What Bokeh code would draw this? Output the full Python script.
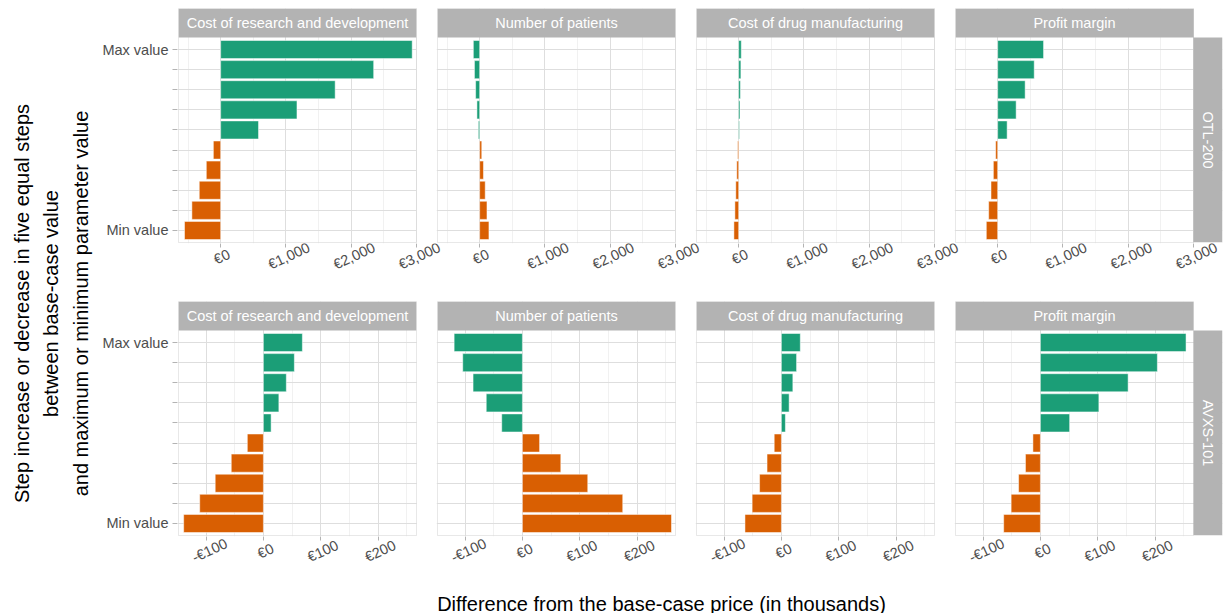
import math
from bokeh.plotting import figure
from bokeh.models import (Range1d, FixedTicker, BoxAnnotation, Label, LinearAxis,
                          ColumnDataSource)
from bokeh.transform import factor_cmap
from bokeh.layouts import row, column
from bokeh.embed import file_html
from bokeh.resources import INLINE
from bokeh.core.properties import value

# ---------------- data ----------------
products = ["OTL-200", "AVXS-101"]
parameters = ["Cost of research and development", "Number of patients",
              "Cost of drug manufacturing", "Profit margin"]
steps = [10, 9, 8, 7, 6, 5, 4, 3, 2, 1]          # 10 = max value ... 1 = min value
step_tick_labels = {10: "Max value", 1: "Min value"}
directions = ["Increase", "Increase", "Increase", "Increase", "Increase",
              "Decrease", "Decrease", "Decrease", "Decrease", "Decrease"]

otl_rd = [2934, 2344, 1754, 1169, 580, -112, -220, -328, -441, -554]
otl_patients = [-97, -80, -62, -42, -20, 32, 58, 85, 112, 142]
otl_manufacturing = [40, 34, 27, 20, 12, -15, -29, -44, -58, -73]
otl_profit = [703, 560, 421, 283, 145, -31, -66, -102, -138, -174]

avxs_rd = [68, 54, 40, 27, 13.5, -28, -56, -84, -111, -139]
avxs_patients = [-119, -104, -86, -63, -36, 30, 67, 114, 175, 260]
avxs_manufacturing = [33, 26.5, 20, 13.5, 7, -12.5, -25, -38, -51, -63.5]
avxs_profit = [254, 204, 153, 102, 51, -13, -26, -38, -51, -64]

otl_limits = [-646, 3000]
otl_ticks = [0, 1000, 2000, 3000]
otl_tick_labels = ["€0", "€1,000", "€2,000", "€3,000"]
otl_minor = [-500, 500, 1500, 2500]

avxs_limits = [-148, 267]
avxs_ticks = [-100, 0, 100, 200]
avxs_tick_labels = ["-€100", "€0", "€100", "€200"]
avxs_minor = [-50, 50, 150, 250]

x_title = "Difference from the base-case price (in thousands)"
y_title_lines = ["Step increase or decrease in five equal steps",
                 "between base-case value",
                 "and maximum or minimum parameter value"]

# ---------------- style / layout ----------------
FONT = "Liberation Sans"
GREEN = "#1B9E77"
ORANGE = "#D95F02"
STRIP_C = "#B3B3B3"
GRID_MAJOR = "#DEDEDE"
GRID_MINOR = "#EDEDED"
TICK_TXT = "#4D4D4D"
TICK_FS = 14.5
ANGLE = math.radians(25)

FRAME_W = 238      # panel width (px)
PANEL_H = 205      # panel height (px)
STRIP_H = 29
RSTRIP_W = 29
EXT = 26           # hidden frame extension right of panels 1-3 (room for end labels)
YT_W = 98
TOP_PAD = 8
OVER = 18          # overlap between neighbouring canvases (transparent borders)
Y_LO, Y_HI = 0.4, 10.6
Y_PER_PX = (Y_HI - Y_LO) / PANEL_H
Y_END = Y_HI + STRIP_H * Y_PER_PX
FRAME_H = 1 + PANEL_H + STRIP_H

# approximate glyph advances (em) of the sans font, used to centre rotated labels
CHAR_EM = {"€": 0.556, ",": 0.278, "-": 0.333}
NBSP_EM = 0.278


def text_em(s):
    return sum(CHAR_EM.get(c, 0.556) for c in s)


def centred_labels(labels):
    """Bokeh anchors angled labels at their right end; pad with no-break spaces so
    every label's visible centre sits the same distance from its anchor."""
    halves = [text_em(l) / 2 for l in labels]
    k = max(halves)
    pads = [int(round((k - h) / NBSP_EM)) for h in halves]
    k_eff = sum(h + n * NBSP_EM for h, n in zip(halves, pads)) / len(labels)
    return [l + "\u00a0" * n for l, n in zip(labels, pads)], k_eff * TICK_FS


def make_panel(vals, limits, ticks, tlabels, minor, param, product, col, top_b, bottom_b,
               label_dy):
    first = col == 0
    last = col == 3
    left_b = 79 if first else 9
    right_b = 4 if last else 3
    extra = RSTRIP_W if last else EXT
    fw = 1 + FRAME_W + extra
    x_per_px = (limits[1] - limits[0]) / FRAME_W
    x_start = limits[0] - x_per_px
    x_end = limits[1] + extra * x_per_px
    p = figure(width=left_b + fw + right_b, height=top_b + FRAME_H + bottom_b,
               x_range=Range1d(x_start, x_end), y_range=Range1d(Y_LO - Y_PER_PX, Y_END),
               output_backend="svg", toolbar_location=None, title=None,
               min_border_left=left_b, min_border_right=right_b,
               min_border_top=top_b, min_border_bottom=bottom_b,
               margin=(0, 0, 0, 0 if first else -OVER))
    p.background_fill_color = "white"
    if first:
        p.border_fill_color = "white"
    else:
        p.border_fill_alpha = 0
    p.outline_line_color = None

    # grids
    p.xgrid.ticker = FixedTicker(ticks=ticks, minor_ticks=minor)
    p.xgrid.grid_line_color = GRID_MAJOR
    p.xgrid.grid_line_width = 1
    p.xgrid.minor_grid_line_color = GRID_MINOR
    p.xgrid.minor_grid_line_width = 0.8
    p.ygrid.ticker = FixedTicker(ticks=steps)
    p.ygrid.grid_line_color = GRID_MAJOR
    p.ygrid.grid_line_width = 1

    # main x axis: tick marks only (labels not drawn)
    p.xaxis.ticker = FixedTicker(ticks=ticks)
    p.xaxis.major_label_text_font_size = "0px"
    p.xaxis.major_label_text_color = None
    p.xaxis.major_label_standoff = 0
    p.xaxis.axis_line_color = None
    p.xaxis.major_tick_line_color = STRIP_C
    p.xaxis.major_tick_out = 4
    p.xaxis.major_tick_in = 0
    p.xaxis.minor_tick_line_color = None

    # label axis: labels centred on their ticks (angled labels are end-anchored in
    # Bokeh, so this axis uses a range offset by the label half-width)
    padded, k_px = centred_labels(tlabels)
    shift_px = 2.5 + k_px * math.cos(ANGLE)
    d = shift_px * x_per_px
    p.extra_x_ranges = {"lab": Range1d(x_start - d, x_end - d)}
    lab_axis = LinearAxis(x_range_name="lab", ticker=FixedTicker(ticks=ticks),
                          major_label_overrides={t: l for t, l in zip(ticks, padded)},
                          axis_line_color=None, major_tick_line_color=None,
                          minor_tick_line_color=None, major_tick_out=0, major_tick_in=0,
                          major_label_orientation=ANGLE,
                          major_label_standoff=int(round(label_dy - 4 - k_px * math.sin(ANGLE))),
                          major_label_text_font=FONT,
                          major_label_text_font_size=f"{TICK_FS}px",
                          major_label_text_color=TICK_TXT)
    p.add_layout(lab_axis, "below")

    # y axis: labelled ticks at max / min, unlabelled ticks at the inner steps
    if first:
        labelled = [s for s in steps if s in step_tick_labels]
        inner = [s for s in steps if s not in step_tick_labels]
        p.yaxis.ticker = FixedTicker(ticks=labelled, minor_ticks=inner)
        p.yaxis.major_label_overrides = dict(step_tick_labels)
        p.yaxis.axis_line_color = None
        p.yaxis.major_tick_line_color = STRIP_C
        p.yaxis.major_tick_out = 5
        p.yaxis.major_tick_in = 0
        p.yaxis.minor_tick_line_color = STRIP_C
        p.yaxis.minor_tick_out = 5
        p.yaxis.minor_tick_in = 0
        p.yaxis.major_label_text_font = FONT
        p.yaxis.major_label_text_font_size = f"{TICK_FS}px"
        p.yaxis.major_label_text_color = TICK_TXT
        p.yaxis.major_label_standoff = 4
    else:
        p.yaxis.visible = False

    src = ColumnDataSource(dict(step=steps, value=vals, direction=directions))
    p.hbar(y="step", left=0, right="value", height=0.9, source=src,
           fill_color=factor_cmap("direction", [GREEN, ORANGE], ["Increase", "Decrease"]),
           line_color="white", line_width=0.5)

    # top strip
    p.add_layout(BoxAnnotation(bottom=Y_HI, left=limits[0], right=limits[1],
                               fill_color=STRIP_C, fill_alpha=1, line_color=None))
    p.add_layout(Label(x=(limits[0] + limits[1]) / 2, y=(Y_HI + Y_END) / 2, text=param,
                       text_align="center", text_baseline="middle", text_color="white",
                       text_font=FONT, text_font_size=f"{TICK_FS}px"))
    if last:
        p.add_layout(BoxAnnotation(left=limits[1], bottom=Y_LO, top=Y_HI,
                                   fill_color=STRIP_C, fill_alpha=1, line_color=None))
        p.add_layout(Label(x=(limits[1] + x_end) / 2, y=(Y_LO + Y_HI) / 2, text=product,
                           angle=-math.pi / 2, text_align="center", text_baseline="middle",
                           text_color="white", text_font=FONT,
                           text_font_size=f"{TICK_FS}px"))
    else:
        # hide the frame extension to the right of the panel
        p.add_layout(BoxAnnotation(left=limits[1], fill_color="white", fill_alpha=1,
                                   line_color=None))
    # hide the 1px frame margin left of / below the panel
    p.add_layout(BoxAnnotation(right=limits[0], fill_color="white", fill_alpha=1,
                               line_color=None))
    p.add_layout(BoxAnnotation(top=Y_LO, fill_color="white", fill_alpha=1, line_color=None))
    # panel border
    p.add_layout(BoxAnnotation(left=limits[0], right=limits[1], bottom=Y_LO, top=Y_END,
                               fill_alpha=0, line_color=STRIP_C, line_width=1))
    return p


otl_vals = [otl_rd, otl_patients, otl_manufacturing, otl_profit]
avxs_vals = [avxs_rd, avxs_patients, avxs_manufacturing, avxs_profit]

ROW1_BOTTOM = 58
ROW2_BOTTOM = 39
row1 = [make_panel(v, otl_limits, otl_ticks, otl_tick_labels, otl_minor,
                   parameters[i], products[0], i, TOP_PAD, ROW1_BOTTOM, 13)
        for i, v in enumerate(otl_vals)]
row2 = [make_panel(v, avxs_limits, avxs_ticks, avxs_tick_labels, avxs_minor,
                   parameters[i], products[1], i, 0, ROW2_BOTTOM, 14.5)
        for i, v in enumerate(avxs_vals)]

panels_w = sum(f.width for f in row1) - 3 * OVER
XT_H = 38
total_h = (TOP_PAD + FRAME_H + ROW1_BOTTOM) + (FRAME_H + ROW2_BOTTOM) + XT_H

# y title
yt = figure(width=YT_W, height=total_h, x_range=Range1d(0, YT_W), y_range=Range1d(0, total_h),
            output_backend="svg", toolbar_location=None, title=None,
            x_axis_location=None, y_axis_location=None, min_border=0)
yt.grid.visible = False
yt.outline_line_color = None
yt.text(x=[21, 50, 80], y=[total_h - 303] * 3, text=y_title_lines, angle=math.pi / 2,
        text_align="center", text_baseline="middle", text_font=value(FONT),
        text_font_size="20px", text_color="black")

# x title
xt = figure(width=panels_w, height=XT_H, x_range=Range1d(0, panels_w), y_range=Range1d(0, XT_H),
            output_backend="svg", toolbar_location=None, title=None,
            x_axis_location=None, y_axis_location=None, min_border=0)
xt.grid.visible = False
xt.outline_line_color = None
xt.text(x=[661 - YT_W], y=[10], text=[x_title], text_align="center", text_baseline="alphabetic",
        text_font=value(FONT), text_font_size="20px", text_color="black")

layout = row(yt, column(row(*row1), row(*row2), xt))

with open("out.html", "w", encoding="utf-8") as f:
    f.write(file_html(layout, INLINE))
